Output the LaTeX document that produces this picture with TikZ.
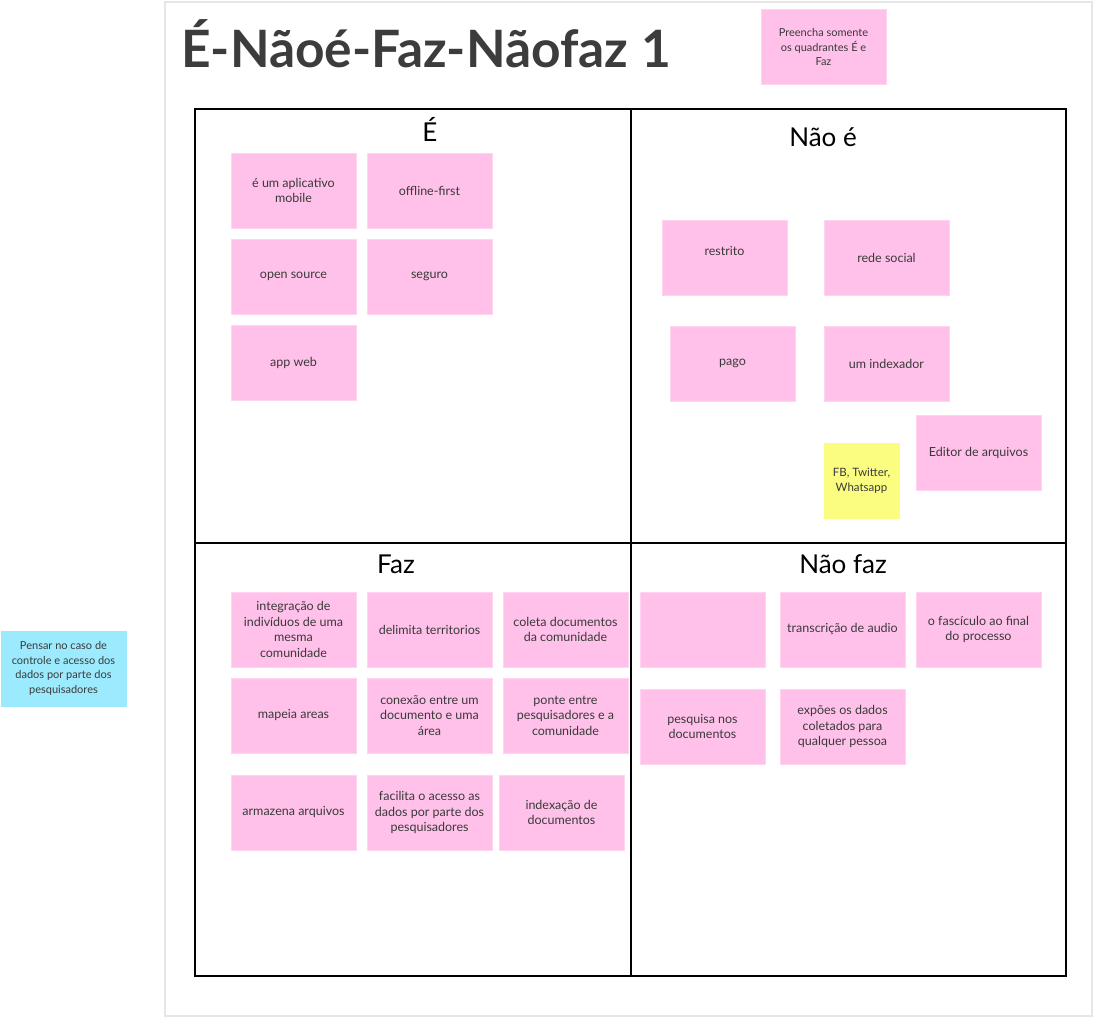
\documentclass[tikz,border=0pt]{standalone}
\usepackage{fontspec}
\setmainfont{Lato}
\newfontfamily\notefont{Lato}
\definecolor{notepink}{HTML}{FFC1E9}
\definecolor{noteyellow}{HTML}{FAFD80}
\definecolor{notecyan}{HTML}{9BEAFE}
\definecolor{notetext}{HTML}{3A3A3A}
\definecolor{titlegray}{HTML}{3C3C3C}
\definecolor{framegray}{HTML}{E6E6E6}
\tikzset{
  note/.style={rectangle, fill=notepink, draw=notepink!70!white, line width=0.8pt,
    minimum width=125pt, minimum height=75pt, align=center,
    inner sep=0pt, font=\notefont\fontsize{12.5}{15.5}\selectfont, text=notetext},
  smallnote/.style={note, font=\notefont\fontsize{11}{14.5}\selectfont},
  sqnote/.style={note, minimum width=75pt, font=\notefont\fontsize{11.5}{15}\selectfont},
  qlabel/.style={font=\fontsize{26}{30}\selectfont, text=black, inner sep=0pt},
  grid/.style={line width=2pt, draw=black}
}
\begin{document}
\begin{tikzpicture}[x=1pt,y=-1pt]
\useasboundingbox (0,0) rectangle (1096,1018);
\fill[white] (0,0) rectangle (1096,1018);
% outer frame
\draw[framegray, line width=1.2pt] (165,2) rectangle (1092,1016);
% title
\node[anchor=west, inner sep=0pt, font=\fontsize{51.5}{56}\bfseries\selectfont, text=titlegray] (title) at (181,44) {É-Nãoé-Faz-Nãofaz 1};
\node[smallnote] (preencha) at (823.5,47) {Preencha somente\\os quadrantes É e\\Faz};
% quadrants
\draw[grid] (195,109) rectangle (1066,976);
\coordinate (vtop) at (631,109);
\coordinate (vbot) at (631,976);
\coordinate (hleft) at (195,543);
\coordinate (hright) at (1066,543);
\draw[grid] (vtop) -- (vbot);
\draw[grid] (hleft) -- (hright);
\node[qlabel] (qe) at (430,129) {É};
\node[qlabel] (qnaoe) at (823,137) {Não é};
\node[qlabel] (qfaz) at (396,564) {Faz};
\node[qlabel] (qnaofaz) at (843,564) {Não faz};
% É
\node[note] (e1) at (293.5,190.5) {é um aplicativo\\mobile};
\node[note] (e2) at (429.5,190.5) {offline-first};
\node[note] (e3) at (293.5,276.5) {open source};
\node[note] (e4) at (429.5,276.5) {seguro};
\node[note] (e5) at (293.5,362.5) {app web};
% Não é
\node[note, text depth=14pt] (n1) at (724.5,257.5) {restrito};
\node[note] (n2) at (886.5,257.5) {rede social};
\node[note] (n3) at (732.5,363.5) {pago};
\node[note] (n4) at (886.5,363.5) {um indexador};
\node[note] (n5) at (978.5,452.5) {Editor de arquivos};
\node[sqnote, fill=noteyellow, draw=noteyellow] (n6) at (861.5,480.5) {FB, Twitter,\\Whatsapp};
% Faz
\node[note] (f1) at (293.5,629.5) {integração de\\indivíduos de uma\\mesma\\comunidade};
\node[note] (f2) at (429.5,629.5) {delimita territorios};
\node[note] (f3) at (565.5,629.5) {coleta documentos\\da comunidade};
\node[note] (f4) at (293.5,715.5) {mapeia areas};
\node[note] (f5) at (429.5,715.5) {conexão entre um\\documento e uma\\área};
\node[note] (f6) at (565.5,715.5) {ponte entre\\pesquisadores e a\\comunidade};
\node[note] (f7) at (293.5,812.5) {armazena arquivos};
\node[note] (f8) at (429.5,812.5) {facilita o acesso as\\dados por parte dos\\pesquisadores};
\node[note] (f9) at (561.5,812.5) {indexação de\\documentos};
% Não faz
\node[note] (g1) at (702.5,629.5) {};
\node[note] (g2) at (842.5,629.5) {transcrição de audio};
\node[note] (g3) at (978.5,629.5) {o fascículo ao final\\do processo};
\node[note] (g4) at (702.5,726.5) {pesquisa nos\\documentos};
\node[note] (g5) at (842.5,726.5) {expões os dados\\coletados para\\qualquer pessoa};
% side note
\node[smallnote, fill=notecyan, draw=notecyan] (side) at (63.5,668.5) {Pensar no caso de\\controle e acesso dos\\dados por parte dos\\pesquisadores};
\end{tikzpicture}
\end{document}
